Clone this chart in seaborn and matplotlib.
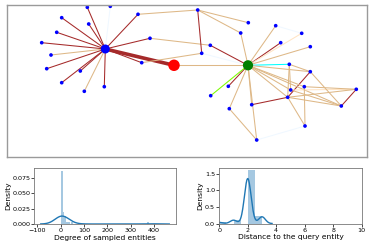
import numpy as np
import pandas as pd
import matplotlib
matplotlib.use("Agg")
import matplotlib.pyplot as plt
import seaborn as sns
from matplotlib.collections import LineCollection

# ---- graph sample (layout positions) ----
node_names = ["hub", "query", "anchor",
              "A", "B", "C", "D", "E", "F", "G", "H", "I", "J", "K", "L", "M", "N", "O",
              "P", "Q", "R", "S", "T", "U", "V", "W", "X", "Y", "Z",
              "AA", "AB", "AC", "AD", "AE", "AF", "AG", "AH", "AI", "AJ", "AK"]
node_x = [105.3, 174.0, 248.0,
          87.3, 110.3, 61.7, 88.7, 138.0, 56.7, 41.7, 150.0, 51.0, 46.7, 80.3, 141.7, 61.7, 84.3, 104.3,
          197.7, 248.3, 240.7, 210.3, 201.7, 275.7, 301.7, 280.7, 310.3, 289.3, 310.3,
          228.3, 210.7, 290.7, 304.3, 356.3, 287.7, 251.7, 229.3, 341.3, 305.0, 256.7]
node_y = [49.0, 65.3, 65.3,
          7.3, 6.3, 17.7, 24.0, 14.3, 32.3, 42.7, 38.3, 55.0, 68.7, 71.0, 62.7, 82.7, 91.3, 86.7,
          10.0, 22.7, 33.0, 45.3, 53.3, 25.7, 33.3, 42.7, 46.7, 64.3, 71.7,
          86.3, 95.7, 90.0, 86.7, 89.3, 97.3, 104.7, 108.7, 106.0, 126.0, 140.0]
node_role = ["center", "query", "neighbor"] + ["entity"] * 37

edge_src = ["hub"] * 15 + ["hub", "E", "H", "L", "query",
            "P", "P", "P", "R", "T", "S",
            "U", "U", "W", "anchor", "X", "Y", "Z", "AA", "AB", "AG", "AH", "AK",
            "AH", "AK", "AG", "AF", "AE",
            "anchor", "anchor", "anchor", "anchor", "Y", "Y", "Y", "AC", "AD", "AF",
            "AF", "AC", "Z", "AD", "AF"]
edge_dst = ["A", "B", "C", "D", "E", "F", "G", "H", "I", "J", "K", "L", "M", "N", "O",
            "query", "P", "S", "T", "anchor",
            "T", "Q", "R", "anchor", "anchor", "anchor",
            "anchor", "V", "anchor", "V", "anchor", "anchor", "anchor", "anchor", "anchor",
            "anchor", "anchor", "anchor",
            "AK", "AJ", "AF", "Z", "AI",
            "AC", "AF", "AI", "AD", "AC", "Z", "AF", "AE", "AE", "AE",
            "AI", "AI", "AI", "AJ", "AJ"]
edge_rel = ["r1", "r3", "r1", "r1", "r1", "r1", "r1", "r1", "r2", "r1", "r1", "r1", "r1", "r2", "r1",
            "r1", "r2", "r2", "r2", "r2",
            "r1", "r2", "r2", "r2", "r3", "r1",
            "r2", "r3", "r1", "r6", "r2", "r4", "r2", "r1", "r5", "r2", "r2", "r2",
            "r2", "r3", "r1", "r1", "r1",
            "r2", "r2", "r2", "r2", "r2", "r2", "r2", "r6", "r2", "r2",
            "r2", "r2", "r2", "r2", "r2"]
rel_colors = {"r1": "brown", "r2": "burlywood", "r3": "aliceblue",
              "r4": "cyan", "r5": "lawngreen", "r6": "bisque"}

# ---- statistics of the sample ----
degree_values = [1] * 14 + [2] * 6 + [3] * 3 + [4] * 2 + [6] \
    + [9, 10, 11, 12, 14, 15] + [17, 18, 20, 22] + [27, 33, 52] + [380]
distance_values = [0] * 1 + [1] * 3 + [2] * 40 + [3] * 6

plt.rcParams["font.family"] = ["DejaVu Sans"]
fig = plt.figure(figsize=(3.71, 2.47), dpi=100)

# ---- network panel ----
ax = fig.add_axes([0.0197, 0.3644, 0.9687, 0.6166])
pos = {n: (x, y) for n, x, y in zip(node_names, node_x, node_y)}
segs = [[pos[s], pos[d]] for s, d in zip(edge_src, edge_dst)]
widths = [2.6 if (s == "hub" and d == "query") else 0.75 for s, d in zip(edge_src, edge_dst)]
ax.add_collection(LineCollection(segs, colors=[rel_colors[r] for r in edge_rel],
                                 linewidths=widths, zorder=1))
nodes = pd.DataFrame({"x": node_x, "y": node_y, "role": node_role})
sns.scatterplot(data=nodes, x="x", y="y", hue="role", size="role",
                palette={"entity": "blue", "center": "blue", "query": "red", "neighbor": "green"},
                sizes={"entity": 7, "center": 42, "query": 68, "neighbor": 54},
                linewidth=0, legend=False, zorder=2, ax=ax)
ax.set_xlim(7.3, 366.7)
ax.set_ylim(157, 4.7)
ax.set_xticks([])
ax.set_yticks([])
ax.set_xlabel("")
ax.set_ylabel("")
for sp in ax.spines.values():
    sp.set_color("#9a9a9a")
    sp.set_linewidth(1.0)

# ---- degree histogram ----
ax1 = fig.add_axes([0.0925, 0.0931, 0.381, 0.2255])
sns.histplot(degree_values, bins=50, stat="density", kde=True, kde_kws={"cut": 3},
             color="#1f77b4", alpha=0.4, linewidth=0, ax=ax1)
ax1.set_xlabel("Degree of sampled entities", fontsize=5.4, labelpad=1)
ax1.set_ylabel("Density", fontsize=5.4, labelpad=1)
ax1.set_xticks([-100, 0, 100, 200, 300, 400])
ax1.set_yticks([0.0, 0.025, 0.05, 0.075])
ax1.yaxis.set_major_formatter(matplotlib.ticker.FormatStrFormatter("%.3f"))

# ---- distance histogram ----
ax2 = fig.add_axes([0.591, 0.095, 0.384, 0.2255])
sns.histplot(distance_values, bins=6, binrange=(0, 3), stat="density", kde=True,
             kde_kws={"cut": 3}, color="#1f77b4", alpha=0.4, linewidth=0, ax=ax2)
ax2.set_xlim(0, 10)
ax2.set_xlabel("Distance to the query entity", fontsize=5.4, labelpad=1)
ax2.set_ylabel("Density", fontsize=5.4, labelpad=1)
ax2.set_xticks([0, 2, 4, 6, 8, 10])
ax2.set_yticks([0.0, 0.5, 1.0, 1.5])

for a in (ax1, ax2):
    a.tick_params(labelsize=4.6, length=2, width=0.5, pad=1)
    for ln in a.lines:
        ln.set_linewidth(1.0)
    for sp in a.spines.values():
        sp.set_linewidth(0.6)
        sp.set_color("#777777")

fig.savefig("out.png", dpi=100)
